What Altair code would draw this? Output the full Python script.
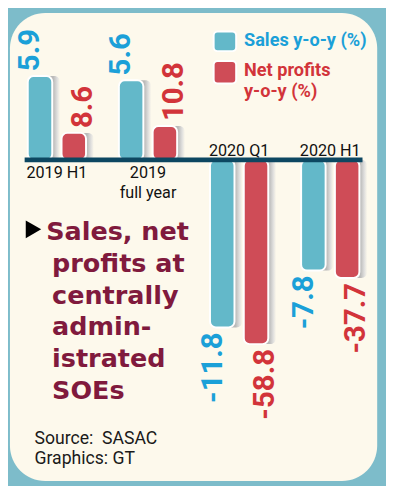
import altair as alt
import pandas as pd

# ---- data ----
categories = ["2019 H1", "2019 full year", "2020 Q1", "2020 H1"]
category_labels = [["2019 H1"], ["2019", "full year"], ["2020 Q1"], ["2020 H1"]]
sales = [5.9, 5.6, -11.8, -7.8]
profits = [8.6, 10.8, -58.8, -37.7]
series = ["sales", "profits"]

title_first = "Sales, net"
title_rest = ["profits at", "centrally", "admin-", "istrated", "SOEs"]
legend_sales = "Sales y-o-y (%)"
legend_profit = ["Net profits", "y-o-y (%)"]
source_lines = ["Source:\u00a0\u00a0SASAC", "Graphics: GT"]

# ---- style ----
W, H = 375, 478
ZERO = 150          # pixel row of zero inside the plot
SALES_PX = 14.5     # pixels per percentage point (sales)
PROFIT_PX = 3.2     # pixels per percentage point (profits)
sales_dom = [-(H - ZERO) / SALES_PX, ZERO / SALES_PX]
profit_dom = [-(H - ZERO) / PROFIT_PX, ZERO / PROFIT_PX]

BORDER = "#7dbcca"
CREAM = "#fdf9ec"
SALES_BAR = "#63b8c9"
PROFIT_BAR = "#cf4c57"
SALES_TXT = "#1ba0d8"
PROFIT_TXT = "#d2343a"
TITLE = "#801a3d"
AXIS = "#0d4761"

df = pd.DataFrame({"category": categories, "label": category_labels,
                   "sales": sales, "profits": profits})
one = pd.DataFrame({"k": [0]})

base = alt.Chart(df).transform_calculate(
    sales_t="toString(datum.sales)", profits_t="toString(datum.profits)"
)

PI, PO = 0.25, 0.14
xenc = alt.X("category:N", sort=categories, axis=None,
             scale=alt.Scale(paddingInner=PI, paddingOuter=PO))
OPI, OPO = 0.275, 0.149
OFF_PAD = dict(domain=series, paddingInner=OPI, paddingOuter=OPO)
xoff = alt.XOffset("series:N", sort=series, scale=alt.Scale(**OFF_PAD))
BANDW = W / (4 - PI + 2 * PO) * (1 - PI)
SHIFT = 8
xoff_shadow = alt.XOffset("series:N", sort=series,
                          scale=alt.Scale(range=[SHIFT, BANDW + SHIFT], **OFF_PAD))


def yenc(field, dom):
    return alt.Y(f"{field}:Q", axis=None, scale=alt.Scale(domain=dom, nice=False))


def shadow(field, dom):
    grad = alt.LinearGradient(gradient="linear",
                              stops=[alt.GradientStop(color="#a9a9a9", offset=0),
                                     alt.GradientStop(color="#b3b3b3", offset=0.72),
                                     alt.GradientStop(color="#dcdcdc", offset=0.88),
                                     alt.GradientStop(color=CREAM, offset=1)],
                              x1=0, x2=1, y1=0, y2=0)
    return base.transform_calculate(series=f"'{field}'").mark_bar(
        color=grad, cornerRadiusEnd=6, opacity=0.9).encode(
        x=xenc, xOffset=xoff_shadow, y=yenc(field, dom), y2=alt.Y2(datum=0))


def bars(field, dom, color):
    return base.transform_calculate(series=f"'{field}'").mark_bar(
        color=color, stroke="white", strokeWidth=2, cornerRadiusEnd=6).encode(
        x=xenc, xOffset=xoff, y=yenc(field, dom), y2=alt.Y2(datum=0))


def labels(field, dom, color):
    common = dict(angle=270, baseline="middle", font="Roboto", fontSize=30,
                  fontWeight="bold", color=color)
    b = base.transform_calculate(series=f"'{field}'")
    pos = b.transform_filter(f"datum.{field} >= 0").mark_text(
        align="left", dx=5, **common).encode(
        x=xenc, xOffset=xoff, y=yenc(field, dom), text=f"{field}_t:N")
    neg = b.transform_filter(f"datum.{field} < 0").mark_text(
        align="right", dx=-5, **common).encode(
        x=xenc, xOffset=xoff, y=yenc(field, dom), text=f"{field}_t:N")
    return pos + neg


axis_line = alt.Chart(one).mark_rule(color=AXIS, strokeWidth=5).encode(
    x=alt.value(15), x2=alt.value(360),
    y=alt.YDatum(0, axis=None, scale=alt.Scale(domain=sales_dom, nice=False)))

cat_font = dict(font="Roboto", fontSize=16.5, color="#111111", lineHeight=20)
cat_below = base.transform_filter("datum.sales >= 0").mark_text(
    baseline="top", **cat_font).encode(x=xenc, y=alt.value(156), text="label")
cat_above = base.transform_filter("datum.sales < 0").mark_text(
    baseline="alphabetic", **cat_font).encode(x=xenc, y=alt.value(146), text="label")

# legend
box = dict(cornerRadius=4, stroke="white", strokeWidth=2)
leg_sales_box = alt.Chart(one).mark_rect(color=SALES_BAR, **box).encode(
    x=alt.value(208), x2=alt.value(231), y=alt.value(19), y2=alt.value(39))
leg_profit_box = alt.Chart(one).mark_rect(color=PROFIT_BAR, **box).encode(
    x=alt.value(208), x2=alt.value(231), y=alt.value(49), y2=alt.value(72))
leg_font = dict(font="Roboto", fontSize=18.5, fontWeight="bold", align="left",
                baseline="alphabetic")
leg_t1 = alt.Chart(one).mark_text(text=legend_sales, color=SALES_TXT, **leg_font).encode(
    x=alt.value(239), y=alt.value(34))
leg_t2 = alt.Chart(one).mark_text(text=legend_profit[0], color=PROFIT_TXT, **leg_font).encode(
    x=alt.value(239), y=alt.value(64))
leg_t3 = alt.Chart(one).mark_text(text=legend_profit[1], color=PROFIT_TXT, **leg_font).encode(
    x=alt.value(239), y=alt.value(86))

# title block
tri = alt.Chart(one).mark_point(shape="triangle-right", filled=True, color="black",
                                opacity=1, size=330).encode(
    x=alt.value(24), y=alt.value(221))
t_font = dict(font="DejaVu Sans", fontSize=26, fontWeight="bold", color=TITLE,
              align="left")
title1 = alt.Chart(one).mark_text(text=title_first, baseline="alphabetic", **t_font).encode(
    x=alt.value(37), y=alt.value(232))
title2 = alt.Chart(one).mark_text(text=title_rest, baseline="alphabetic", lineHeight=32.4,
                                  **t_font).encode(
    x=alt.value(43), y=alt.value(264.4))

src_font = dict(font="Roboto", fontSize=18, color="#1a1a1a", align="left",
                baseline="alphabetic")
src1 = alt.Chart(one).mark_text(text=source_lines[0], **src_font).encode(
    x=alt.value(25), y=alt.value(440))
src2 = alt.Chart(one).mark_text(text=source_lines[1], **src_font).encode(
    x=alt.value(25), y=alt.value(461))

chart = alt.layer(
    shadow("sales", sales_dom),
    shadow("profits", profit_dom),
    bars("sales", sales_dom, SALES_BAR),
    bars("profits", profit_dom, PROFIT_BAR),
    labels("sales", sales_dom, SALES_TXT),
    labels("profits", profit_dom, PROFIT_TXT),
    axis_line, cat_below, cat_above,
    leg_sales_box, leg_profit_box, leg_t1, leg_t2, leg_t3,
    tri, title1, title2, src1, src2,
).resolve_scale(y="independent", xOffset="independent").properties(
    width=W, height=H,
    padding={"left": 2, "top": 0, "right": 9, "bottom": 0},
    background=BORDER,
).configure_view(fill=CREAM, stroke=None, cornerRadius=36)

chart.save("out.html", embed_options={"renderer": "svg", "actions": False})
